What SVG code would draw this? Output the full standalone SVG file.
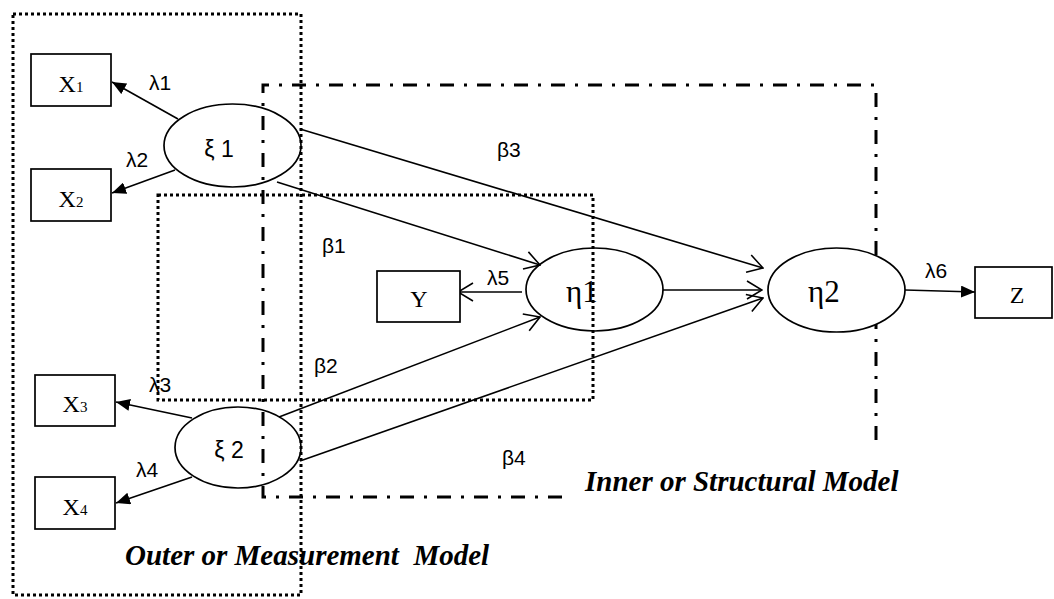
<svg xmlns="http://www.w3.org/2000/svg" width="1054" height="599" viewBox="0 0 1054 599">
<style>
.frame-dot{fill:none;stroke:#000;stroke-width:3;stroke-dasharray:3 3}
.frame-dd{fill:none;stroke:#000;stroke-width:3;stroke-dasharray:14 10 3 10}
.box{fill:#fff;stroke:#000;stroke-width:1.7}
.ell{fill:none;stroke:#000;stroke-width:1.7}
.ellw{fill:#fff;stroke:#000;stroke-width:1.7}
.conn{stroke:#000;stroke-width:1.6;fill:none}
.f{marker-end:url(#filled)}
.o{marker-end:url(#open)}
.lbl{font-family:"Liberation Sans",Arial,sans-serif;font-size:21px;fill:#000}
.ser{font-family:"Liberation Serif","Times New Roman",serif;font-size:24px;fill:#000}
.lat{font-family:"Liberation Sans",Arial,sans-serif;font-size:23px;fill:#000}
.eta{font-family:"Liberation Serif","Times New Roman",serif;font-size:31px;fill:#000}
.cap{font-family:"Liberation Serif","Times New Roman",serif;font-size:29px;font-weight:bold;font-style:italic;fill:#000}
</style>
<defs>
<marker id="filled" markerUnits="userSpaceOnUse" viewBox="0 0 14 12" refX="14" refY="6" markerWidth="14" markerHeight="12" orient="auto">
<path d="M0,0 L14,6 L0,12 Z" fill="#000"/>
</marker>
<marker id="open" markerUnits="userSpaceOnUse" viewBox="0 0 17 20" refX="16" refY="10" markerWidth="17" markerHeight="20" orient="auto">
<path d="M1,1 L16,10 L1,19" fill="none" stroke="#000" stroke-width="1.6"/>
</marker>
</defs>

<g id="frames">
<rect class="frame-dot" x="13" y="14" width="288" height="581"/>
<rect class="frame-dot" x="158" y="195" width="435" height="205"/>
<path class="frame-dd" d="M562,497 H263 V85 H876 V450"/>
</g>

<g id="connectors">
<line class="conn f" x1="178" y1="119" x2="112" y2="82"/>
<line class="conn f" x1="175" y1="170" x2="112" y2="193"/>
<line class="conn f" x1="192" y1="418" x2="116" y2="402"/>
<line class="conn f" x1="192" y1="477" x2="116" y2="503"/>
<line class="conn o" x1="277" y1="182" x2="540" y2="265"/>
<line class="conn o" x1="300" y1="129" x2="763" y2="268"/>
<line class="conn o" x1="279" y1="417" x2="540" y2="317"/>
<line class="conn o" x1="300" y1="461" x2="763" y2="298"/>
<line class="conn o" x1="522" y1="292" x2="458" y2="292"/>
<line class="conn o" x1="663" y1="290" x2="762" y2="290"/>
<line class="conn f" x1="905" y1="290" x2="975" y2="292"/>
<text class="lbl" x="149" y="90">λ1</text>
<text class="lbl" x="126" y="167">λ2</text>
<text class="lbl" x="149" y="392">λ3</text>
<text class="lbl" x="136" y="477">λ4</text>
<text class="lbl" x="487" y="285">λ5</text>
<text class="lbl" x="925" y="278">λ6</text>
<text class="lbl" x="322" y="253">β1</text>
<text class="lbl" x="314" y="373">β2</text>
<text class="lbl" x="497" y="157">β3</text>
<text class="lbl" x="502" y="465">β4</text>
</g>

<g id="X1"><rect class="box" x="31" y="54" width="80" height="52"/><text class="ser" x="71" y="92" text-anchor="middle">X<tspan font-size="15">1</tspan></text></g>
<g id="X2"><rect class="box" x="31" y="169" width="80" height="52"/><text class="ser" x="71" y="207" text-anchor="middle">X<tspan font-size="15">2</tspan></text></g>
<g id="X3"><rect class="box" x="35" y="375" width="80" height="51"/><text class="ser" x="75" y="412" text-anchor="middle">X<tspan font-size="15">3</tspan></text></g>
<g id="X4"><rect class="box" x="35" y="477" width="80" height="52"/><text class="ser" x="75" y="515" text-anchor="middle">X<tspan font-size="15">4</tspan></text></g>
<g id="Y"><rect class="box" x="377" y="271" width="83" height="51"/><text class="ser" x="419" y="307" text-anchor="middle">Y</text></g>
<g id="Z"><rect class="box" x="975" y="267" width="77" height="51"/><text class="ser" x="1017" y="303" text-anchor="middle">Z</text></g>

<g id="xi1"><ellipse class="ell" cx="232.5" cy="145.5" rx="68.5" ry="41.5"/><text class="lat" x="219" y="157" text-anchor="middle">ξ 1</text></g>
<g id="xi2"><ellipse class="ell" cx="238" cy="447.5" rx="63" ry="40.5"/><text class="lat" x="229" y="458" text-anchor="middle">ξ 2</text></g>
<g id="eta1"><ellipse class="ell" cx="594.5" cy="289.5" rx="68.5" ry="41.5"/><text class="eta" x="566" y="302">η1</text></g>
<g id="eta2"><ellipse class="ellw" cx="836.5" cy="290" rx="68.5" ry="42"/><text class="eta" x="808" y="302">η2</text></g>

<g id="captions">
<text class="cap" x="585" y="491">Inner or Structural Model</text>
<text class="cap" x="125" y="565" xml:space="preserve">Outer or Measurement  Model</text>
</g>
</svg>
